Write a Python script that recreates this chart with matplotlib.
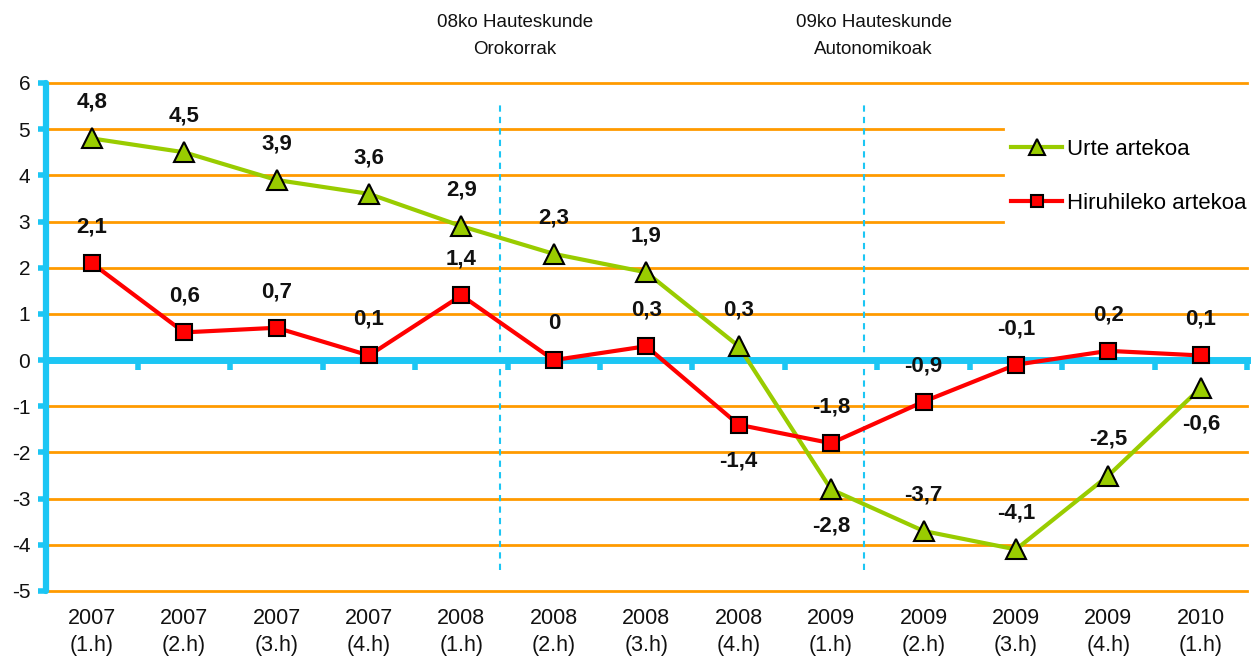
import matplotlib
matplotlib.use("Agg")
import matplotlib.pyplot as plt
from matplotlib.transforms import blended_transform_factory

plt.rcParams['font.family'] = ['Liberation Sans', 'DejaVu Sans']

# ---- data ----
categories = ["2007\n(1.h)", "2007\n(2.h)", "2007\n(3.h)", "2007\n(4.h)",
              "2008\n(1.h)", "2008\n(2.h)", "2008\n(3.h)", "2008\n(4.h)",
              "2009\n(1.h)", "2009\n(2.h)", "2009\n(3.h)", "2009\n(4.h)",
              "2010\n(1.h)"]
urte = [4.8, 4.5, 3.9, 3.6, 2.9, 2.3, 1.9, 0.3, -2.8, -3.7, -4.1, -2.5, -0.6]
hiru = [2.1, 0.6, 0.7, 0.1, 1.4, 0.0, 0.3, -1.4, -1.8, -0.9, -0.1, 0.2, 0.1]
# label placement: +1 above, -1 below
urte_pos = [1, 1, 1, 1, 1, 1, 1, 1, -1, 1, 1, 1, -1]
hiru_pos = [1, 1, 1, 1, 1, 1, 1, -1, 1, 1, 1, 1, 1]
series_names = ["Urte artekoa", "Hiruhileko artekoa"]
events = ["08ko Hauteskunde\nOrokorrak", "09ko Hauteskunde\nAutonomikoak"]
event_x = [4.42, 8.36]
event_text_x = [4.58, 8.46]
yticks = list(range(-5, 7))

CYAN = '#1CC6F4'
ORANGE = '#FF9A00'
GREEN = '#99CC00'
RED = '#FF0000'

W, H = 1253, 667
fig = plt.figure(figsize=(W / 100, H / 100), dpi=100)
ax = fig.add_axes([45.5 / W, 76 / H, (1247 - 45.5) / W, (591 - 83) / H])
ax.set_xlim(-0.5, len(categories) - 0.5)
ax.set_ylim(-5, 6)

# gridlines
short_lines = [5, 4, 3]
for yv in yticks:
    if yv == 0:
        continue
    if yv in short_lines:
        ax.axhline(yv, xmin=0, xmax=(1003 - 45.5) / (1247 - 45.5), color=ORANGE, lw=2,
                   zorder=1, clip_on=False)
    else:
        ax.axhline(yv, color=ORANGE, lw=2, zorder=1, clip_on=False)

# event dashed lines
for ex in event_x:
    ax.vlines(ex, -4.55, 5.55, colors=CYAN, linestyles=(0, (3, 2.5)), lw=1.5, zorder=1)

# spines
for s in ['top', 'right', 'bottom']:
    ax.spines[s].set_visible(False)
ax.spines['left'].set_color(CYAN)
ax.spines['left'].set_linewidth(4.5)
ax.spines['left'].set_zorder(2)
ax.spines['left'].set_capstyle('round')

ax.set_yticks(yticks)
ax.set_yticklabels([str(v) for v in yticks])
ax.tick_params(axis='y', direction='out', length=6, width=4, color=CYAN,
               labelsize=15, pad=5, labelcolor='#111111')

ax.set_xticks(range(len(categories)))
ax.set_xticklabels(categories, fontsize=15.5, linespacing=1.4, color='#111111')
ax.tick_params(axis='x', length=0, pad=12)

# zero axis line with category-boundary ticks
sec = ax.secondary_xaxis(5 / 11)
sec.spines['bottom'].set_color(CYAN)
sec.spines['bottom'].set_linewidth(5)
sec.spines['bottom'].set_zorder(3)
sec.set_xticks([i + 0.5 for i in range(len(categories))])
sec.tick_params(axis='x', direction='out', length=7, width=4, color=CYAN, labelbottom=False)

x = list(range(len(categories)))
l1, = ax.plot(x, urte, color=GREEN, lw=3, marker='^', markersize=15,
              markerfacecolor=GREEN, markeredgecolor='black', markeredgewidth=1.5,
              zorder=5, clip_on=False, label=series_names[0])
l2, = ax.plot(x, hiru, color=RED, lw=3, marker='s', markersize=11.5,
              markerfacecolor=RED, markeredgecolor='black', markeredgewidth=1.5,
              zorder=6, clip_on=False, label=series_names[1])

def fmt(v):
    s = ('%.1f' % v).replace('.', ',')
    if s in ('0,0', '-0,0'):
        s = '0'
    return s

for vals, poss in ((urte, urte_pos), (hiru, hiru_pos)):
    for xi, v, p in zip(x, vals, poss):
        ax.annotate(fmt(v), (xi, v), xytext=(0, 26 * p), textcoords='offset points',
                    ha='center', va='center', fontsize=16, fontweight='bold',
                    color='#111111', zorder=7)

# event texts
tr = blended_transform_factory(ax.transData, fig.transFigure)
for tx, t in zip(event_text_x, events):
    ax.text(tx, 1 - 36 / H, t, transform=tr, ha='center', va='center',
            fontsize=13.5, linespacing=1.75, color='#111111')

fig.legend(handles=[l1, l2], loc='center left',
           bbox_to_anchor=(1011 / W, 1 - 176.5 / H), bbox_transform=fig.transFigure,
           frameon=False, fontsize=16, handlelength=2.3, handletextpad=0.2,
           labelspacing=1.5, borderpad=0, borderaxespad=0, markerscale=0.75)

fig.savefig('out.png', dpi=100)
